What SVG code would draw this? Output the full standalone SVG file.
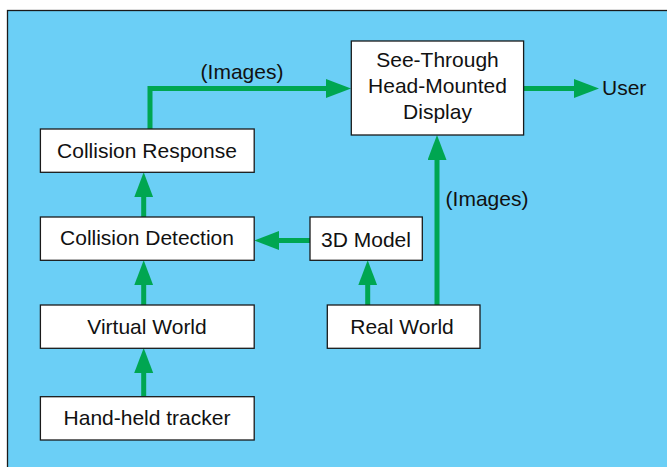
<svg xmlns="http://www.w3.org/2000/svg" width="667" height="467" viewBox="0 0 667 467">
<style>
.box{fill:#ffffff;stroke:#1a1a1a;stroke-width:1.3}
.t{font-family:"Liberation Sans",Arial,sans-serif;font-size:21px;fill:#111;text-anchor:middle}
.c{fill:none;stroke:#00A651;stroke-width:5}
</style>
<defs>
<marker id="ah" markerUnits="userSpaceOnUse" markerWidth="26" markerHeight="20" refX="5" refY="9.5" orient="auto">
<path d="M0,0 L25,9.5 L0,19 z" fill="#00A651"/>
</marker>
</defs>
<rect x="0" y="0" width="667" height="467" fill="#ffffff"/>
<rect x="7.5" y="10.5" width="700" height="500" fill="#6BCFF6" stroke="#1a1a1a" stroke-width="1.3"/>
<g id="connectors">
<line class="c" x1="143.7" y1="396.7" x2="143.7" y2="368" marker-end="url(#ah)"/>
<line class="c" x1="143.7" y1="305" x2="143.7" y2="280.3" marker-end="url(#ah)"/>
<line class="c" x1="143.7" y1="217" x2="143.7" y2="192.3" marker-end="url(#ah)"/>
<path class="c" d="M150,129 V88.5 H331" marker-end="url(#ah)"/>
<line class="c" x1="523.6" y1="88.5" x2="579" y2="88.5" marker-end="url(#ah)"/>
<line class="c" x1="437" y1="305" x2="437" y2="155" marker-end="url(#ah)"/>
<line class="c" x1="367.7" y1="305" x2="367.7" y2="280.3" marker-end="url(#ah)"/>
<line class="c" x1="310" y1="240.5" x2="274.3" y2="240.5" marker-end="url(#ah)"/>
<text class="t" x="242" y="79">(Images)</text>
<text class="t" x="487" y="206">(Images)</text>
</g>
<g id="hmd">
<rect class="box" x="351.3" y="41" width="172.3" height="94"/>
<text class="t" x="437.5" y="67.3">See-Through</text>
<text class="t" x="437.5" y="93.3">Head-Mounted</text>
<text class="t" x="437.5" y="119">Display</text>
</g>
<g id="user">
<text class="t" x="602" y="95.3" style="text-anchor:start">User</text>
</g>
<g id="collision-response">
<rect class="box" x="40.4" y="129" width="213.8" height="43.3"/>
<text class="t" x="147" y="157.7">Collision Response</text>
</g>
<g id="collision-detection">
<rect class="box" x="40.4" y="217" width="213.8" height="43.3"/>
<text class="t" x="147" y="245">Collision Detection</text>
</g>
<g id="virtual-world">
<rect class="box" x="40.4" y="305" width="213.8" height="43.3"/>
<text class="t" x="147" y="334.3">Virtual World</text>
</g>
<g id="hand-held-tracker">
<rect class="box" x="40.4" y="396.7" width="213.8" height="43.3"/>
<text class="t" x="147" y="425">Hand-held tracker</text>
</g>
<g id="model-3d">
<rect class="box" x="310" y="217" width="112.3" height="43.3"/>
<text class="t" x="366" y="247.3">3D Model</text>
</g>
<g id="real-world">
<rect class="box" x="327.3" y="305" width="152.7" height="43.3"/>
<text class="t" x="402" y="334.3">Real World</text>
</g>
</svg>
